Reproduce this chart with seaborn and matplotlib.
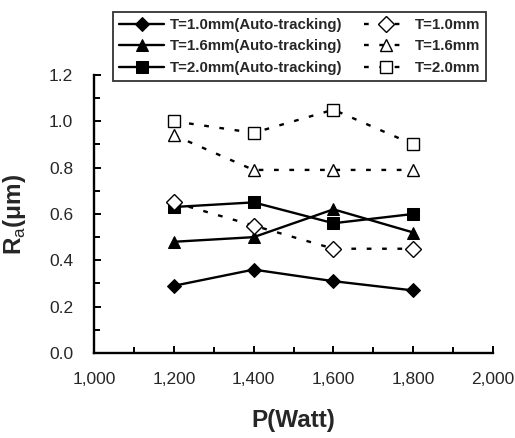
import matplotlib
matplotlib.use("Agg")
import matplotlib.pyplot as plt
from matplotlib.ticker import MultipleLocator, FuncFormatter
import pandas as pd
import seaborn as sns

# values
power = [1200, 1400, 1600, 1800]
auto_10 = [0.29, 0.36, 0.31, 0.27]
auto_16 = [0.48, 0.50, 0.62, 0.52]
auto_20 = [0.63, 0.65, 0.56, 0.60]
fixed_10 = [0.65, 0.55, 0.45, 0.45]
fixed_16 = [0.94, 0.79, 0.79, 0.79]
fixed_20 = [1.00, 0.95, 1.05, 0.90]

labels = ['T=1.0mm(Auto-tracking)', 'T=1.6mm(Auto-tracking)', 'T=2.0mm(Auto-tracking)',
          'T=1.0mm', 'T=1.6mm', 'T=2.0mm']
series = [auto_10, auto_16, auto_20, fixed_10, fixed_16, fixed_20]
markers = ['D', '^', 's', 'D', '^', 's']
filled = [True, True, True, False, False, False]

sns.set_style("ticks")
plt.rcParams['font.family'] = ['Liberation Sans', 'DejaVu Sans']
plt.rcParams['mathtext.fontset'] = 'custom'
plt.rcParams['mathtext.rm'] = 'Liberation Sans'
plt.rcParams['mathtext.bf'] = 'Liberation Sans:bold'

fig = plt.figure(figsize=(5.15, 4.38), dpi=100)
ax = fig.add_axes([0.1825, 0.194, 0.775, 0.635])

for lab, vals, mk, fl in zip(labels, series, markers, filled):
    df = pd.DataFrame({'P': power, 'Ra': vals})
    sz = {'D': 7, '^': 8, 's': 8}[mk]
    if fl:
        sns.lineplot(data=df, x='P', y='Ra', ax=ax, color='black', lw=1.7,
                     marker=mk, markersize=sz, markerfacecolor='black',
                     markeredgecolor='black', label=lab)
    else:
        sns.lineplot(data=df, x='P', y='Ra', ax=ax, color='black', lw=1.7,
                     marker=mk, markersize=sz + 1, markerfacecolor='white',
                     markeredgecolor='black', markeredgewidth=1.0,
                     dashes=(2, 4.5), label=lab)

ax.set_xlim(1000, 2000)
ax.set_ylim(0, 1.2)
ax.xaxis.set_major_locator(MultipleLocator(200))
ax.xaxis.set_minor_locator(MultipleLocator(100))
ax.yaxis.set_major_locator(MultipleLocator(0.2))
ax.yaxis.set_minor_locator(MultipleLocator(0.1))
ax.xaxis.set_major_formatter(FuncFormatter(lambda v, p: f'{int(v):,}'))
ax.yaxis.set_major_formatter(FuncFormatter(lambda v, p: f'{v:.1f}'))
ax.tick_params(which='both', direction='in', width=1.4, labelsize=12.5, color='black')
ax.tick_params(which='major', length=5)
ax.tick_params(which='minor', length=4)
ax.tick_params(axis='y', pad=15)
ax.tick_params(axis='x', pad=14)
for s in ['top', 'right']:
    ax.spines[s].set_visible(False)
for s in ['left', 'bottom']:
    ax.spines[s].set_linewidth(1.7)
    ax.spines[s].set_color('black')

ax.set_xlabel('P(Watt)', fontsize=17.5, fontweight='bold')
ax.set_ylabel(r'$\mathbf{R}_{\mathrm{a}}$(μm)', fontsize=17.5, fontweight='bold')
ax.xaxis.set_label_coords(0.5, -0.20)
ax.yaxis.set_label_coords(-0.165, 0.5)

ax.legend_.remove()
h, l = ax.get_legend_handles_labels()
leg = fig.legend(h, l, ncol=2, loc='upper left', bbox_to_anchor=(0.205, 0.99),
                 frameon=True, fancybox=False, edgecolor='black', handlelength=3.0,
                 columnspacing=1.4, handletextpad=0.4, labelspacing=0.5,
                 borderpad=0.4, prop={'weight': 'bold', 'size': 10.8})
leg.get_frame().set_linewidth(1.3)

fig.savefig('out.png', dpi=100)
